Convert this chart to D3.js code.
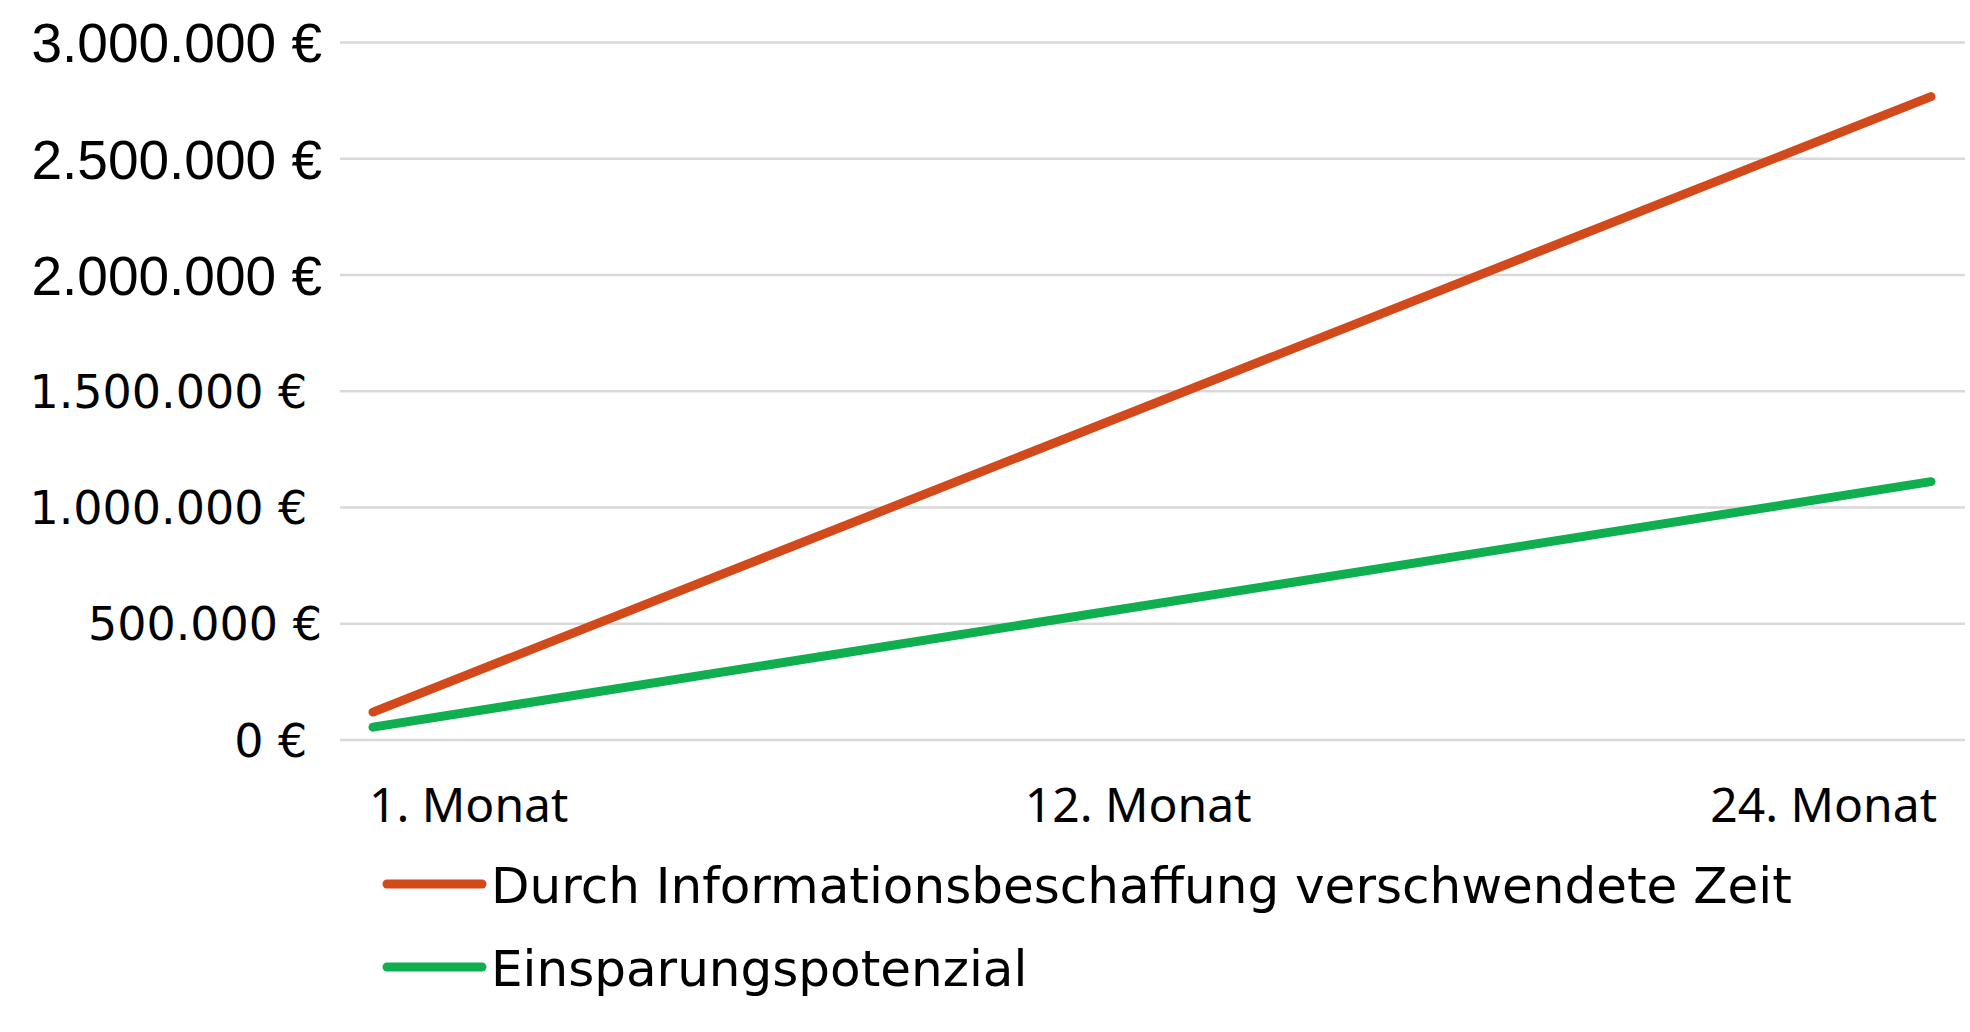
<!DOCTYPE html>
<html>
<head>
<meta charset="utf-8">
<script src="https://cdn.jsdelivr.net/npm/d3@7"></script>
<style>
  body { margin: 0; background: #fff; }
  .lbl { font-family: "DejaVu Sans", sans-serif; fill: #000; }
  .xl { font-family: "Noto Sans", sans-serif; fill: #000; }
  .arial { font-family: "Liberation Sans", Arial, sans-serif; }
</style>
</head>
<body>
<div id="chart"></div>
<script>
// months shown on the x axis and the cumulative values in euro
var months = [1, 12, 24];
var monthLabels = ["1. Monat", "12. Monat", "24. Monat"];
var wasted = [118000, 1384000, 2765000];
var savings = [53000, 558000, 1109000];
var seriesNames = ["Durch Informationsbeschaffung verschwendete Zeit", "Einsparungspotenzial"];
var seriesColors = ["#d24a1b", "#0fae4f"];
var yTicks = [0, 500000, 1000000, 1500000, 2000000, 2500000, 3000000];
var yTickLabels = ["0 €\u00a0", "500.000 €", "1.000.000 €\u00a0", "1.500.000 €\u00a0", "2.000.000 €", "2.500.000 €", "3.000.000 €"];

var W = 1970, H = 1032;
var svg = d3.select("#chart").append("svg")
  .attr("width", W).attr("height", H);

var xScale = d3.scaleLinear().domain([1, 24]).range([373, 1931]);
var yScale = d3.scaleLinear().domain([0, 3000000]).range([739.5, 42]);

// gridlines + y labels
var yAxis = d3.axisLeft(yScale)
  .tickValues(yTicks)
  .tickSize(-(1965 - 340))
  .tickPadding(18)
  .tickFormat((d, i) => yTickLabels[i]);

var yg = svg.append("g").attr("transform", "translate(340,0)").call(yAxis);
yg.select(".domain").remove();
yg.selectAll(".tick line").attr("stroke", "#d9d9d9").attr("stroke-width", 2.5);
yg.selectAll(".tick text")
  .attr("class", (d) => d >= 2000000 ? "lbl arial" : "lbl")
  .attr("font-size", (d) => d >= 2000000 ? 55 : 46)
  .attr("dy", "0.36em");

// x labels: first left aligned, last right aligned
var anchors = ["start", "middle", "end"];
svg.append("g").selectAll("text").data(months).enter()
  .append("text").attr("class", "xl")
  .attr("x", (d) => xScale(d))
  .attr("dx", (d, i) => i === 1 ? 20 : (i === 0 ? -4 : 6))
  .attr("y", 822)
  .attr("font-size", 48)
  .attr("text-anchor", (d, i) => anchors[i])
  .text((d, i) => monthLabels[i]);

// lines
var line = d3.line()
  .x((d) => xScale(d.m))
  .y((d) => yScale(d.v));

[wasted, savings].forEach((vals, s) => {
  var pts = months.map((m, i) => ({ m: m, v: vals[i] }));
  svg.append("path").datum(pts)
    .attr("d", line)
    .attr("fill", "none")
    .attr("stroke", seriesColors[s])
    .attr("stroke-width", 9)
    .attr("stroke-linecap", "round")
    .attr("stroke-linejoin", "round");
});

// legend
var legend = svg.append("g").attr("transform", "translate(387,884)");
var items = legend.selectAll("g").data(seriesNames).enter()
  .append("g").attr("transform", (d, i) => "translate(0," + i * 83 + ")");
items.append("line")
  .attr("x1", 0).attr("x2", 95)
  .attr("stroke", (d, i) => seriesColors[i])
  .attr("stroke-width", 9)
  .attr("stroke-linecap", "round");
items.append("text").attr("class", "lbl")
  .attr("x", 104).attr("y", 19)
  .attr("font-size", 50)
  .text((d) => d);
</script>
</body>
</html>
